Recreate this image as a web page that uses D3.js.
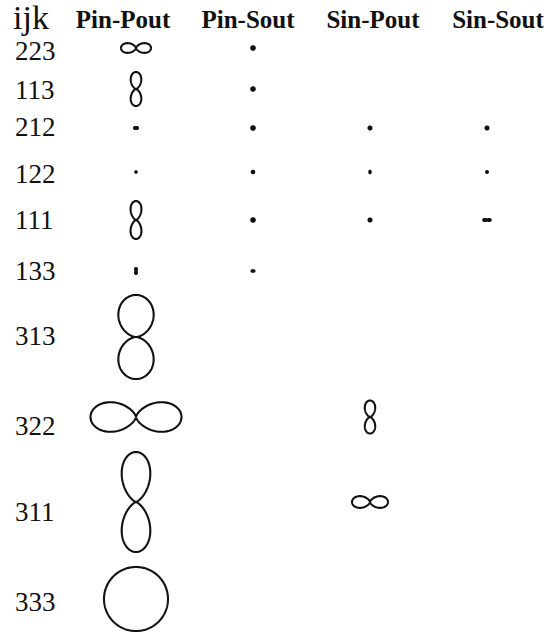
<!DOCTYPE html>
<html><head><meta charset="utf-8">
<script src="https://cdn.jsdelivr.net/npm/d3@7/dist/d3.min.js"></script>
<style>html,body{margin:0;padding:0;background:#fff;overflow:hidden}</style>
</head><body><svg id="c" width="547" height="634"></svg>
<script>
// ---- data ----
const rows = ["223","113","212","122","111","133","313","322","311","333"];
const columns = ["Pin-Pout","Pin-Sout","Sin-Pout","Sin-Sout"];
// lobe amplitude, relative to 311 Pin-Pout = 1 (null = no signal)
const ampPinPout = [0.30, 0.34, 0.04, 0.015, 0.38, 0.06, 0.84, 0.91, 1.00, 0.64];
const ampPinSout = [0.035, 0.035, 0.035, 0.025, 0.035, 0.03, null, null, null, null];
const ampSinPout = [null, null, 0.03, 0.025, 0.03, null, null, 0.33, 0.36, null];
const ampSinSout = [null, null, 0.03, 0.018, 0.075, null, null, null, null, null];
// lobe axis: "h" horizontal, "v" vertical, "o" isotropic
const axisPinPout = ["h","v","h","o","v","v","v","h","v","o"];
const axisPinSout = ["o","o","o","o","o","h","o","o","o","o"];
const axisSinPout = ["o","o","o","v","o","o","o","v","h","o"];
const axisSinSout = ["o","o","o","o","h","o","o","o","o","o"];
// lobe sharpness exponent (0 = circle)
const expPinPout = [3, 3.3, 1, 0, 4, 3, 1.6, 3, 4, 0];
const expPinSout = [0, 0, 0, 0, 0, 1, 0, 0, 0, 0];
const expSinPout = [0, 0, 0, 1, 0, 0, 0, 3.2, 3, 0];
const expSinSout = [0, 0, 0, 0, 4, 0, 0, 0, 0, 0];

const series = [
  {col: "Pin-Pout", amp: ampPinPout, axis: axisPinPout, exp: expPinPout},
  {col: "Pin-Sout", amp: ampPinSout, axis: axisPinSout, exp: expPinSout},
  {col: "Sin-Pout", amp: ampSinPout, axis: axisSinPout, exp: expSinPout},
  {col: "Sin-Sout", amp: ampSinSout, axis: axisSinSout, exp: expSinSout}
];

// ---- layout ----
const W = 547, H = 634;
const svg = d3.select("#c");
svg.append("rect").attr("width", W).attr("height", H).attr("fill", "#fff");

const x = d3.scalePoint().domain(columns).range([136, 487]);
const xHead = d3.scalePoint().domain(columns).range([123, 498]);
const y = d3.scaleOrdinal().domain(rows).range([48, 89, 128, 172, 220, 271, 337, 417, 502, 599]);
const yLabel = d3.scaleOrdinal().domain(rows).range([51, 90, 127, 174, 220, 271, 336, 426, 512, 602]);
const r = d3.scaleLinear().domain([0, 1]).range([0, 50]);

const ink = "#111";
const serif = "'Liberation Serif','Times New Roman',serif";

// header
svg.append("text").attr("x", 13).attr("y", 29)
  .attr("font-family", serif).attr("font-size", 34).attr("fill", ink).text("ijk");
svg.append("g").selectAll("text").data(columns).join("text")
  .attr("x", d => xHead(d)).attr("y", 28).attr("text-anchor", "middle")
  .attr("font-family", serif).attr("font-weight", "bold").attr("font-size", 25)
  .attr("fill", ink).text(d => d);

// row labels
svg.append("g").selectAll("text").data(rows).join("text")
  .attr("x", 15).attr("y", d => yLabel(d)).attr("dy", "0.34em")
  .attr("font-family", serif).attr("font-size", 27).attr("fill", ink).text(d => d);

// polar patterns
const angles = d3.range(0, 360, 1.5).map(d => d * Math.PI / 180);
const line = d3.lineRadial().angle(d => d.a).radius(d => d.r).curve(d3.curveLinearClosed);

series.forEach(s => {
  const g = svg.append("g").attr("transform", `translate(${x(s.col)},0)`);
  rows.forEach((row, i) => {
    const a = s.amp[i];
    if (a == null) return;
    const phi0 = s.axis[i] === "h" ? Math.PI / 2 : 0;
    const n = s.exp[i];
    const pts = angles.map(t => ({a: t, r: r(a) * Math.pow(Math.abs(Math.cos(t - phi0)), n)}));
    const tiny = r(a) < 4;
    g.append("path")
      .attr("transform", `translate(0,${y(row)})`)
      .attr("d", line(pts))
      .attr("fill", tiny ? ink : "none").attr("stroke", ink).attr("stroke-width", 2.1)
      .attr("stroke-linejoin", "round");
  });
});
</script></body></html>
